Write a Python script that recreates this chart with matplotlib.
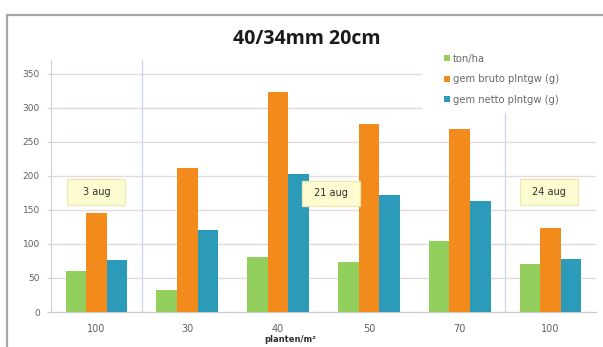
import matplotlib
matplotlib.use("Agg")
import matplotlib.pyplot as plt
from matplotlib.patches import Patch, Rectangle
import numpy as np

# Plant density per m² and the measured values per density
categories = ["100", "30", "40", "50", "70", "100"]
ton_ha = [60, 33, 81, 74, 104, 70]
bruto_plntgw = [145, 212, 323, 276, 268, 124]
netto_plntgw = [77, 120, 203, 172, 163, 78]
series_labels = ["ton/ha", "gem bruto plntgw (g)", "gem netto plntgw (g)"]
harvest_dates = ["3 aug", "21 aug", "24 aug"]
harvest_pos = [(0.0, 176), (2.58, 174), (4.98, 176)]
y_ticks = [0, 50, 100, 150, 200, 250, 300, 350]

colors = ["#93cf5d", "#f28a1c", "#2c9bb9"]
W, H = 603, 347
fig = plt.figure(figsize=(W / 100, H / 100), dpi=100)
fig.patch.set_facecolor("white")

# outer chart border
fig.add_artist(Rectangle((7 / W, -0.1), 1.2, 1 - 15 / H + 0.1, transform=fig.transFigure,
                         facecolor="none", edgecolor="#a6a6a6", lw=1.6, zorder=0))

ax = fig.add_axes([51 / W, 1 - 312 / H, (596 - 51) / W, (312 - 60) / H])
x = np.arange(len(categories))
bw = 0.226
series = [ton_ha, bruto_plntgw, netto_plntgw]
for i, (vals, col) in enumerate(zip(series, colors)):
    ax.bar(x + (i - 1) * bw, vals, width=bw, color=col, zorder=3)

ax.set_xlim(-0.5, len(categories) - 0.5)
ax.set_ylim(0, 370)
ax.set_yticks(y_ticks)
ax.set_xticks(x)
ax.set_xticklabels(categories)
ax.yaxis.grid(True, color="#e4dada", lw=1.0, zorder=0)
ax.set_axisbelow(True)
for s in ["top", "right"]:
    ax.spines[s].set_visible(False)
ax.spines["left"].set_color("#d0d0d0")
ax.spines["bottom"].set_color("#c8c8c8")
ax.tick_params(axis="y", length=3, color="#d0d0d0", pad=5, labelsize=6.5, labelcolor="#606060")
ax.tick_params(axis="x", length=0, pad=9, labelsize=7, labelcolor="#606060")

# separators between harvest groups
for xv in [0.5, 4.5]:
    ax.axvline(xv, color="#ccd6e2", lw=0.9, zorder=1)

# harvest date labels in pale yellow boxes
box_w, box_h = 0.64, 38
for txt, (xp, yp) in zip(harvest_dates, harvest_pos):
    ax.add_patch(Rectangle((xp - box_w / 2, yp - box_h / 2), box_w, box_h,
                           facecolor="#fdfbd0", edgecolor="#ece8b4", lw=0.9, zorder=5))
    ax.text(xp, yp, txt, ha="center", va="center", fontsize=7, color="#303030", zorder=6)

fig.text(307 / W, 1 - 39 / H, "40/34mm 20cm", ha="center", va="center",
         fontsize=14, fontweight="bold", color="#1a1a1a", family="Open Sans")
fig.text(290 / W, 1 - 339 / H, "planten/m²", ha="center", va="center",
         fontsize=6, fontweight="bold", color="#303030")

# legend on a white panel covering the grid
fig.add_artist(Rectangle((422 / W, 1 - 113 / H), (600 - 422) / W, (113 - 40) / H,
                         transform=fig.transFigure, facecolor="white", edgecolor="none", zorder=4))
handles = [Patch(facecolor=c, edgecolor="none") for c in colors]
leg = fig.legend(handles, series_labels, loc="upper left",
                 bbox_to_anchor=(444 / W, 1 - 54 / H), frameon=False,
                 fontsize=7.2, handlelength=0.55, handleheight=0.55, handletextpad=0.35,
                 labelspacing=1.05, borderaxespad=0, borderpad=0)
for t in leg.get_texts():
    t.set_color("#6a6a6a")
leg.set_zorder(6)

fig.savefig("out.png", dpi=100)
